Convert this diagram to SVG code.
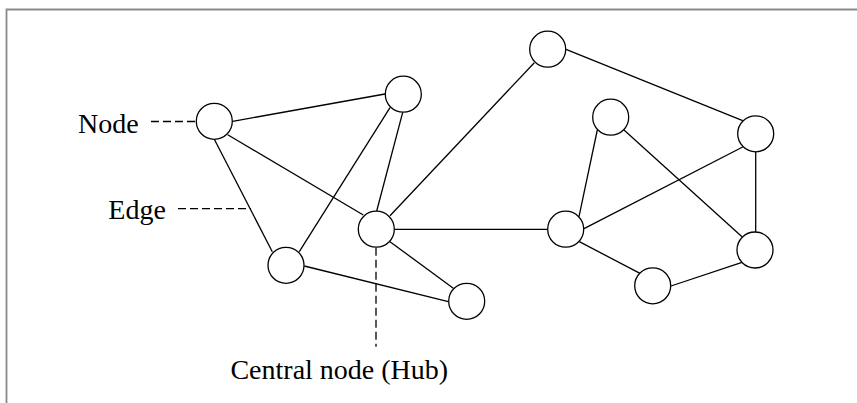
<svg xmlns="http://www.w3.org/2000/svg" width="857" height="403" viewBox="0 0 857 403">
<style>
.node{fill:#fff;stroke:#000;stroke-width:1.3}
.edge{stroke:#000;stroke-width:1.3;fill:none}
.lead{stroke:#000;stroke-width:1.3;stroke-dasharray:8 4;fill:none}
.lbl{font-family:"Liberation Serif","Times New Roman",serif;font-size:28px;fill:#000}
.frame{stroke:#8a8a8a;stroke-width:1.8;fill:none}
</style>
<rect width="857" height="403" fill="#fff"/>
<path class="frame" d="M6.5,403 V9.5 H857"/>
<g id="connectors">
<line class="edge" x1="232.7" y1="121.3" x2="385" y2="94"/>
<line class="edge" x1="227.7" y1="134.7" x2="363.3" y2="215"/>
<line class="edge" x1="214.3" y1="139.3" x2="272.3" y2="251.7"/>
<line class="edge" x1="390" y1="107.7" x2="299.3" y2="251.7"/>
<line class="edge" x1="402.7" y1="112.3" x2="376.7" y2="211"/>
<line class="edge" x1="390" y1="215.7" x2="534.3" y2="62.7"/>
<line class="edge" x1="395" y1="229.3" x2="547.3" y2="229.3"/>
<line class="edge" x1="390" y1="241.7" x2="453.3" y2="288.3"/>
<line class="edge" x1="304.3" y1="266" x2="448.3" y2="301.7"/>
<line class="edge" x1="566" y1="49.3" x2="742.7" y2="120.7"/>
<line class="edge" x1="597.3" y1="130" x2="579" y2="216.7"/>
<line class="edge" x1="624" y1="130" x2="742" y2="236.7"/>
<line class="edge" x1="584" y1="228.7" x2="742.7" y2="147"/>
<line class="edge" x1="579.3" y1="241.7" x2="640" y2="273.3"/>
<line class="edge" x1="755.7" y1="152" x2="755.7" y2="232"/>
<line class="edge" x1="671" y1="286" x2="742" y2="262.3"/>
<line class="lead" x1="151" y1="121.5" x2="196" y2="121.5"/>
<line class="lead" x1="178" y1="208.7" x2="251" y2="208.7"/>
<line class="lead" x1="376" y1="247.7" x2="376" y2="346.7"/>
</g>
<g id="nA"><circle class="node" cx="214.3" cy="121.3" r="18"/></g>
<g id="nB"><circle class="node" cx="403.3" cy="94.2" r="18"/></g>
<g id="nHub"><circle class="node" cx="376.3" cy="229.2" r="18"/></g>
<g id="nD"><circle class="node" cx="286" cy="265.3" r="18"/></g>
<g id="nE"><circle class="node" cx="466.7" cy="301.3" r="18"/></g>
<g id="nF"><circle class="node" cx="547.7" cy="49.2" r="18"/></g>
<g id="nG"><circle class="node" cx="610.7" cy="117.2" r="18"/></g>
<g id="nH"><circle class="node" cx="755.7" cy="133.8" r="18"/></g>
<g id="nI"><circle class="node" cx="565.7" cy="229.2" r="18"/></g>
<g id="nJ"><circle class="node" cx="755" cy="250" r="18"/></g>
<g id="nK"><circle class="node" cx="652.7" cy="285.8" r="18"/></g>
<g id="labels">
<text class="lbl" x="78" y="132.7">Node</text>
<text class="lbl" x="108.3" y="219.3">Edge</text>
<text class="lbl" x="339.3" y="379.3" text-anchor="middle">Central node (Hub)</text>
</g>
</svg>
